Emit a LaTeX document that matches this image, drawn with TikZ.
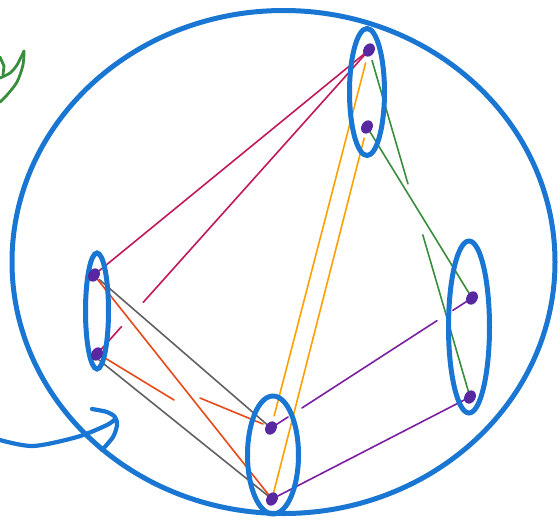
\documentclass[tikz,border=0pt]{standalone}
\usetikzlibrary{shapes.geometric,calc}
\definecolor{bl}{RGB}{25,118,210}
\definecolor{crim}{RGB}{194,24,91}
\definecolor{gry}{RGB}{97,97,97}
\definecolor{ored}{RGB}{230,74,25}
\definecolor{orng}{RGB}{255,160,0}
\definecolor{grn}{RGB}{56,142,60}
\definecolor{purp}{RGB}{123,31,162}
\definecolor{dotc}{RGB}{88,40,160}
\pgfdeclarelayer{bg}
\pgfsetlayers{bg,main}
\tikzset{
  dotn/.style={ellipse,fill=dotc,inner sep=0pt,minimum width=11pt,minimum height=14pt,rotate=-30},
  grp/.style={ellipse,draw=bl,line width=5pt,inner sep=0pt},
  thinl/.style={line width=1.6pt,line cap=round},
  blstroke/.style={draw=bl,line width=4.2pt,line cap=round,line join=round},
}
\begin{document}
\begin{tikzpicture}[x=1pt,y=-1pt]
\useasboundingbox (0,0) rectangle (560,523);
% big circle and groups
\node[grp,minimum width=543pt,minimum height=503pt] (big) at (283.5,262) {};
\node[grp,minimum width=35pt,minimum height=127pt] (gT) at (367,92) {};
\node[grp,minimum width=23pt,minimum height=116pt] (gL) at (97,311) {};
\node[grp,minimum width=51pt,minimum height=118pt] (gB) at (273,455) {};
\node[grp,minimum width=41pt,minimum height=172pt] (gR) at (469,327) {};
% dots
\node[dotn] (t1) at (369,50) {};
\node[dotn] (t2) at (367,127) {};
\node[dotn] (l1) at (94,275) {};
\node[dotn] (l2) at (97,354) {};
\node[dotn] (b1) at (271,428) {};
\node[dotn] (b2) at (272,499) {};
\node[dotn] (r1) at (472,298) {};
\node[dotn] (r2) at (470,397) {};
\coordinate (rb1) at (174,400);
\coordinate (rb2) at (200,398);
\begin{pgfonlayer}{bg}
% crimson
\draw[thinl,crim] (t1.center) -- (l1.center);
\draw[thinl,crim] (t1.center) -- ($(t1)!0.83!(l2)$);
\draw[thinl,crim] ($(t1)!0.91!(l2)$) -- (l2.center);
% gray
\draw[thinl,gry] ($(l1)!0.03!(b1)$) -- (b1.center);
\draw[thinl,gry] ($(l2)+(2,6)$) -- (b2.center);
% orange-red
\draw[thinl,ored] (l1.center) -- (b2.center);
\draw[thinl,ored] ($(l2)+(8,4)$) -- (rb1);
\draw[thinl,ored] (rb2) -- ($(b1)+(-8,-4)$);
% orange
\draw[thinl,orng] ($(t1)!0.034!(b1)$) -- ($(t1)!0.968!(b1)$);
\draw[thinl,orng] ($(t2)!0.03!(b2)$) -- (b2.center);
% green
\draw[thinl,grn] ($(t1)!0.03!(r2)$) -- ($(t1)!0.386!(r2)$);
\draw[thinl,grn] ($(t1)!0.533!(r2)$) -- (r2.center);
\draw[thinl,grn] (t2.center) -- (r1.center);
% purple
\draw[thinl,purp] (b1.center) -- ($(b1)!0.085!(r1)$);
\draw[thinl,purp] ($(b1)!0.154!(r1)$) -- ($(b1)!0.826!(r1)$);
\draw[thinl,purp] ($(b1)!0.905!(r1)$) -- (r1.center);
\draw[thinl,purp] (b2.center) -- (r2.center);
\end{pgfonlayer}
% green scribble (top left)
\draw[grn,line width=2.8pt,line cap=round,line join=round]
  (0,57) -- (4,66) -- (3,75);
\draw[grn,line width=2.8pt,line cap=round,line join=round]
  plot[smooth] coordinates {(0,78) (10,73) (17,65) (24,51)};
\draw[grn,line width=2.8pt,line cap=round,line join=round]
  plot[smooth] coordinates {(24,51) (23,65) (17,82) (7,95) (0,102)};
% blue arrow (bottom left)
\coordinate (as) at (0,440);
\coordinate (ae) at (115,419);
\draw[blstroke] plot[smooth] coordinates {(as) (33,446) (77,437) (107,425) (ae)};
\draw[blstroke] plot[smooth] coordinates {(92,409) (107,412) (115,417) (117,425) (113,437) (102,450)};
\end{tikzpicture}
\end{document}
